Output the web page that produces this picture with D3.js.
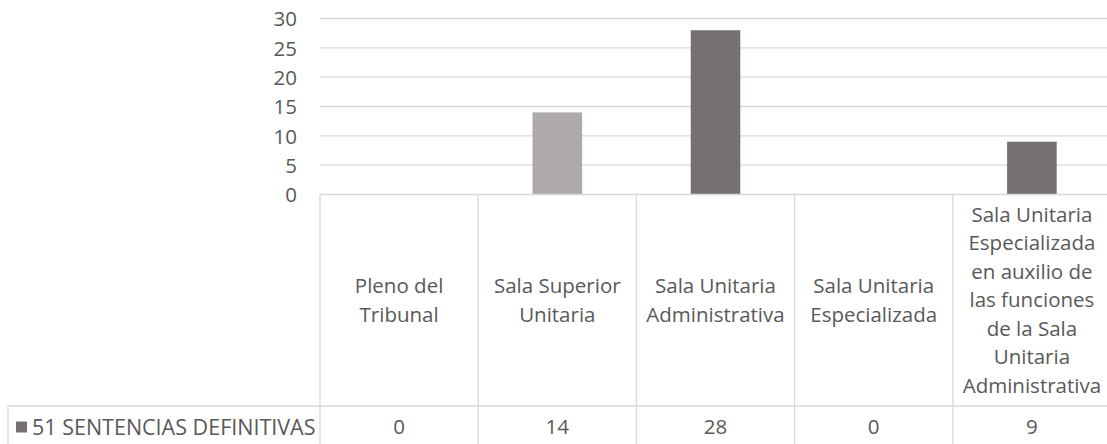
<!DOCTYPE html>
<html>
<head>
<meta charset="utf-8">
<script src="https://cdn.jsdelivr.net/npm/d3@7"></script>
<style>
  html, body { margin: 0; padding: 0; background: #ffffff; }
  svg { display: block; }
  text { font-family: "Open Sans", "Noto Sans", sans-serif; fill: #595959; }
</style>
</head>
<body>
<svg id="chart" width="1107" height="444"></svg>
<script>
// Categories (line breaks as shown in the data table header)
const categories = [
  "Pleno del\nTribunal",
  "Sala Superior\nUnitaria",
  "Sala Unitaria\nAdministrativa",
  "Sala Unitaria\nEspecializada",
  "Sala Unitaria\nEspecializada\nen auxilio de\nlas funciones\nde la Sala\nUnitaria\nAdministrativa"
];
const seriesName = "51 SENTENCIAS DEFINITIVAS";
const values = [0, 14, 28, 0, 9];
const pointColors = ["#767171", "#AEAAAA", "#767171", "#767171", "#767171"];
const seriesColor = "#767171";
const yTicks = [0, 5, 10, 15, 20, 25, 30];

const svg = d3.select("#chart");
const W = 1107, H = 444;

// Plot geometry
const plotLeft = 320, plotRight = 1111;
const plotTop = 18.5, plotBottom = 194.5;
const tableRowY = 406;      // top of the values row
const tableLeft = 8;
const gapWidth = 2.19;      // gap between bars relative to bar width
const fontSize = 20.5;
const lineH = 28.5;
const gridColor = "#D9D9D9";

const x = d3.scaleBand().domain(d3.range(categories.length)).range([plotLeft, plotRight]).padding(0);
const y = d3.scaleLinear().domain([0, 30]).range([plotBottom, plotTop]);
const barW = x.bandwidth() / (1 + gapWidth);

// Gridlines
svg.append("g")
  .selectAll("line")
  .data(yTicks.filter(t => t !== 0))
  .join("line")
  .attr("x1", plotLeft).attr("x2", W)
  .attr("y1", d => y(d)).attr("y2", d => y(d))
  .attr("stroke", gridColor).attr("stroke-width", 1.3);

// Y axis labels
const yAxis = d3.axisLeft(y).tickValues(yTicks).tickSize(0).tickPadding(0);
const yg = svg.append("g").attr("transform", `translate(${plotLeft - 23},0)`).call(yAxis);
yg.select(".domain").remove();
yg.selectAll("text")
  .attr("font-size", fontSize)
  .attr("font-family", "'Open Sans', sans-serif")
  .attr("fill", "#595959")
  .attr("dy", "0.35em");

// Bars
svg.append("g")
  .selectAll("rect")
  .data(values)
  .join("rect")
  .attr("x", (d, i) => x(i) + (x.bandwidth() - barW) / 2)
  .attr("width", barW)
  .attr("y", d => y(d))
  .attr("height", d => y(0) - y(d))
  .attr("fill", (d, i) => pointColors[i]);

// Data table lines
const tg = svg.append("g").attr("stroke", gridColor).attr("stroke-width", 1.3);
tg.append("line").attr("x1", plotLeft).attr("x2", W).attr("y1", y(0)).attr("y2", y(0));
tg.append("line").attr("x1", tableLeft).attr("x2", W).attr("y1", tableRowY).attr("y2", tableRowY);
tg.append("line").attr("x1", tableLeft).attr("x2", tableLeft).attr("y1", tableRowY).attr("y2", H + 2);
tg.selectAll("line.col")
  .data(d3.range(categories.length + 1))
  .join("line")
  .attr("class", "col")
  .attr("x1", i => plotLeft + i * x.bandwidth())
  .attr("x2", i => plotLeft + i * x.bandwidth())
  .attr("y1", y(0)).attr("y2", H + 2);

// Category headers
const cellMid = (y(0) + tableRowY) / 2;
svg.append("g")
  .selectAll("text")
  .data(categories)
  .join("text")
  .attr("text-anchor", "middle")
  .attr("font-size", fontSize)
  .attr("x", (d, i) => x(i) + x.bandwidth() / 2)
  .each(function (d) {
    const lines = d.split("\n");
    const t = d3.select(this);
    const y0 = cellMid - (lines.length - 1) * lineH / 2;
    lines.forEach((ln, k) => {
      t.append("tspan")
        .attr("x", t.attr("x"))
        .attr("y", y0 + k * lineH)
        .attr("dy", "0.35em")
        .text(ln);
    });
  });

// Values row
const rowMid = 427;
svg.append("g")
  .selectAll("text")
  .data(values)
  .join("text")
  .attr("text-anchor", "middle")
  .attr("font-size", fontSize)
  .attr("x", (d, i) => x(i) + x.bandwidth() / 2)
  .attr("y", rowMid)
  .attr("dy", "0.35em")
  .text(d => d);

// Series key and name
svg.append("rect")
  .attr("x", 16).attr("y", rowMid - 5.5)
  .attr("width", 11).attr("height", 11)
  .attr("fill", seriesColor);
svg.append("text")
  .attr("x", 32).attr("y", rowMid)
  .attr("dy", "0.35em")
  .attr("font-size", 21.5)
  .text(seriesName);
</script>
</body>
</html>
